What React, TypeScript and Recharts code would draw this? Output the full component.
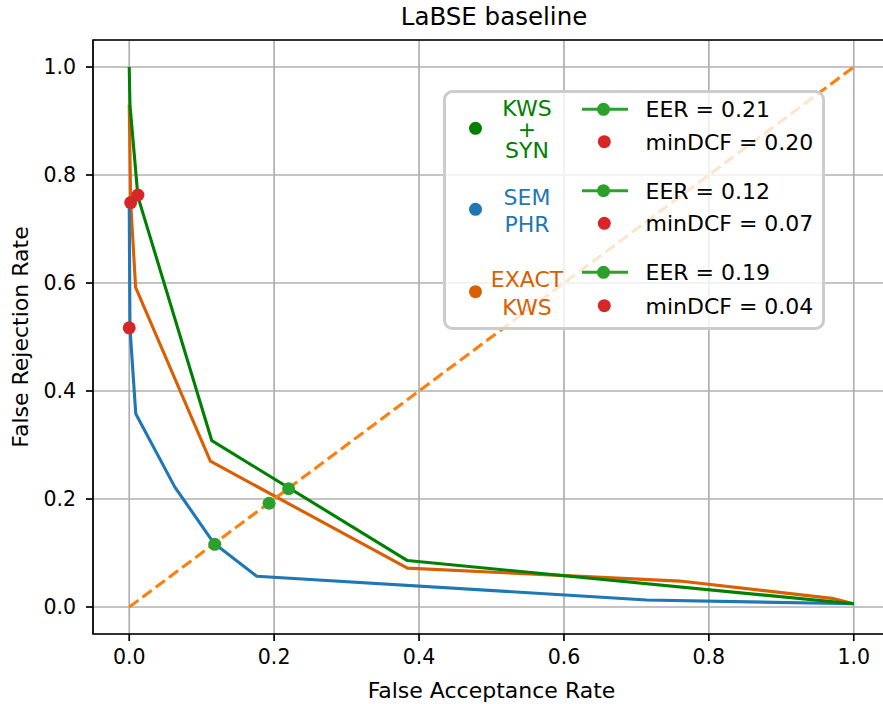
import React from 'react';
import { ComposedChart, Line, Scatter, XAxis, YAxis, CartesianGrid, ReferenceArea } from 'recharts';

const ticks = [0, 0.2, 0.4, 0.6, 0.8, 1.0];

// KWS + SYN curve
const kwsSynFar = [0, 0.001, 0.012, 0.114, 0.384, 1.0];
const kwsSynFrr = [1.0, 0.93, 0.76, 0.308, 0.086, 0.006];

// SEM PHR curve
const semPhrFar = [0, 0.001, 0.009, 0.063, 0.117, 0.176, 0.714, 1.0];
const semPhrFrr = [0.75, 0.517, 0.358, 0.222, 0.118, 0.057, 0.013, 0.006];

// EXACT KWS curve
const exactFar = [0, 0.002, 0.0088, 0.112, 0.384, 0.76, 0.97, 1.0];
const exactFrr = [0.93, 0.75, 0.592, 0.27, 0.072, 0.048, 0.016, 0.006];

// operating points
const eerFar = [0.22, 0.118, 0.193];
const eerFrr = [0.219, 0.116, 0.192];
const minDcfFar = [0.012, 0.0, 0.002];
const minDcfFrr = [0.763, 0.517, 0.749];

// legend
const legendNames = [['KWS', '+', 'SYN'], ['SEM', 'PHR'], ['EXACT', 'KWS']];
const eerLabels = ['0.21', '0.12', '0.19'];
const minDcfLabels = ['0.20', '0.07', '0.04'];

const GREEN = '#008000';
const BLUE = '#1f77b4';
const ORANGE = '#d95f02';
const EER_GREEN = '#2ca02c';
const RED = '#d62728';
const FONT = 'DejaVu Sans';

const toPoints = (xs: number[], ys: number[]) => xs.map((x, i) => ({ x, y: ys[i] }));

const kwsSyn = toPoints(kwsSynFar, kwsSynFrr);
const semPhr = toPoints(semPhrFar, semPhrFrr);
const exact = toPoints(exactFar, exactFrr);
const eerPts = toPoints(eerFar, eerFrr);
const minDcfPts = toPoints(minDcfFar, minDcfFrr);
const diagonal = toPoints([0, 1], [0, 1]);

const dotShape = (color: string) => (p: any) => (
  <circle cx={p.cx} cy={p.cy} r={6.5} fill={color} />
);

// legend rows: name colour, dot y, name line ys, eer y, minDcf y
const legendRows = [
  { color: GREEN, dotY: 128.3, nameYs: [108.5, 129.5, 150.5], eerY: 109.3, dcfY: 141.7 },
  { color: BLUE, dotY: 209.3, nameYs: [196.7, 224.3], eerY: 190.7, dcfY: 223.3 },
  { color: ORANGE, dotY: 291.7, nameYs: [279, 306.7], eerY: 272.3, dcfY: 305.7 },
];

function LegendOverlay() {
  const fs = 22;
  const base = fs * 0.36;
  return (
    <svg width={883} height={704} style={{ position: 'absolute', left: 0, top: 0, pointerEvents: 'none' }}>
      <text x={494} y={25} textAnchor="middle" fontSize={24.5} fontFamily={FONT} fill="#000">
        LaBSE baseline
      </text>
      <rect x={444.5} y={91.5} width={379} height={237} rx={8} ry={8}
        fill="rgba(255,255,255,0.8)" stroke="#cccccc" strokeWidth={3} />
      {legendRows.map((r, i) => (
        <g key={i}>
          <circle cx={475.5} cy={r.dotY} r={6.5} fill={r.color} />
          {legendNames[i].map((s, j) => (
            <text key={j} x={527} y={r.nameYs[j] + base} textAnchor="middle" fontSize={fs} fontFamily={FONT} fill={r.color}>
              {s}
            </text>
          ))}
          <line x1={582} x2={628} y1={r.eerY} y2={r.eerY} stroke={EER_GREEN} strokeWidth={3.1} />
          <circle cx={603.5} cy={r.eerY} r={6.5} fill={EER_GREEN} />
          <text x={645.5} y={r.eerY + base} fontSize={fs} fontFamily={FONT} fill="#000">
            {`EER = ${eerLabels[i]}`}
          </text>
          <circle cx={604.3} cy={r.dcfY} r={6.5} fill={RED} />
          <text x={645.5} y={r.dcfY + base} fontSize={fs} fontFamily={FONT} fill="#000">
            {`minDCF = ${minDcfLabels[i]}`}
          </text>
        </g>
      ))}
    </svg>
  );
}

export default function App() {
  const tickStyle = { fill: '#000', fontSize: 20.5, fontFamily: FONT };
  return (
    <div style={{ position: 'fixed', left: 0, top: 0, width: 883, height: 704, overflow: 'hidden', background: '#fff' }}>
      <ComposedChart width={891} height={704} margin={{ top: 40, right: 1, bottom: 0, left: 0 }}>
        <CartesianGrid stroke="#b0b0b0" strokeWidth={1.7} />
        <XAxis
          type="number"
          dataKey="x"
          domain={[-0.05, 1.05]}
          ticks={ticks}
          allowDataOverflow
          tickFormatter={(v) => v.toFixed(1)}
          tick={tickStyle}
          tickSize={7}
          tickMargin={8}
          tickLine={{ stroke: '#000', strokeWidth: 1.7 }}
          axisLine={false}
          height={70}
          label={{ value: 'False Acceptance Rate', position: 'insideBottom', offset: 6, fill: '#000', fontSize: 22, fontFamily: FONT }}
        />
        <YAxis
          type="number"
          dataKey="y"
          domain={[-0.05, 1.05]}
          ticks={ticks}
          allowDataOverflow
          tickFormatter={(v) => v.toFixed(1)}
          tick={tickStyle}
          tickSize={7}
          tickMargin={10}
          tickLine={{ stroke: '#000', strokeWidth: 1.7 }}
          axisLine={false}
          width={93}
          label={{ value: 'False Rejection Rate', angle: -90, position: 'insideLeft', offset: 20, fill: '#000', fontSize: 22, fontFamily: FONT, style: { textAnchor: 'middle' } }}
        />
        <ReferenceArea x1={-0.05} x2={1.05} y1={-0.05} y2={1.05} fill="none" stroke="#000" strokeWidth={1.7} ifOverflow="visible" />
        <Line data={exact} dataKey="y" type="linear" stroke={ORANGE} strokeWidth={3.1} strokeLinejoin="round" dot={false} activeDot={false} isAnimationActive={false} />
        <Line data={semPhr} dataKey="y" type="linear" stroke={BLUE} strokeWidth={3.1} strokeLinejoin="round" dot={false} activeDot={false} isAnimationActive={false} />
        <Line data={kwsSyn} dataKey="y" type="linear" stroke={GREEN} strokeWidth={3.1} strokeLinejoin="round" dot={false} activeDot={false} isAnimationActive={false} />
        <Line data={diagonal} dataKey="y" type="linear" stroke="#ff7f0e" strokeWidth={3.1} strokeDasharray="11.5 5" dot={false} activeDot={false} isAnimationActive={false} />
        <Scatter data={eerPts} dataKey="y" fill={EER_GREEN} shape={dotShape(EER_GREEN)} isAnimationActive={false} />
        <Scatter data={minDcfPts} dataKey="y" fill={RED} shape={dotShape(RED)} isAnimationActive={false} />
      </ComposedChart>
      <LegendOverlay />
    </div>
  );
}
